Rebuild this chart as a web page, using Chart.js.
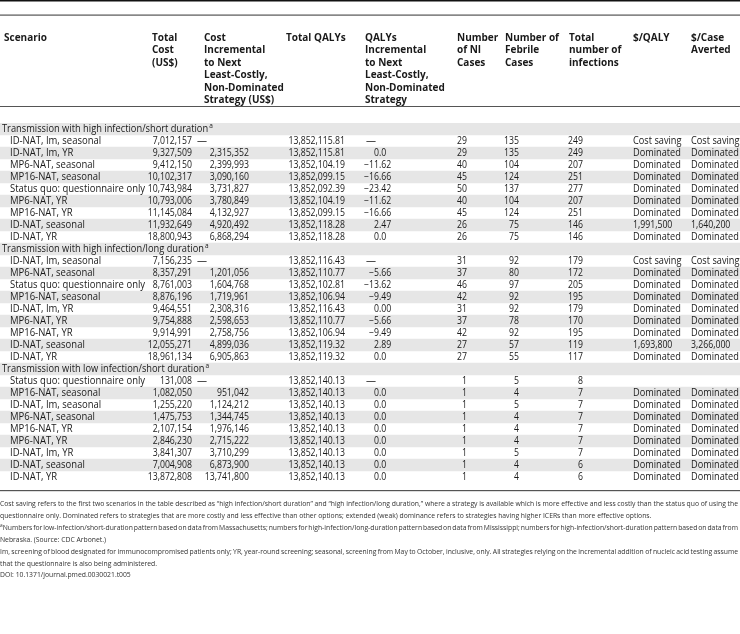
<!DOCTYPE html>
<html>
<head>
<meta charset="utf-8">
<script src="https://cdn.jsdelivr.net/npm/chart.js@4.4.1/dist/chart.umd.min.js"></script>
<style>
  body { margin: 0; background: #fff; }
  #wrap { position: relative; width: 740px; height: 634px; overflow: hidden; }
  #wrap canvas { position: absolute; left: 0; top: 0; }
  .hd { position: absolute; top: 30.5px; font: bold 10px "Open Sans", sans-serif; line-height: 12.6px; color: #1a1a1a; white-space: nowrap; }
  #notes { position: absolute; left: 0; top: 498px; width: 738px; font: 6.8px "Open Sans", sans-serif; line-height: 11.9px; color: #333; }
  #notes div { white-space: nowrap; }
  sup { font-size: 70%; line-height: 0; }
</style>
</head>
<body>
<div id="wrap">
  <canvas id="table"></canvas>
  <div id="notes"></div>
</div>
<script>
// section titles
const sections = [
    'Transmission with high infection/short duration',
    'Transmission with high infection/long duration',
    'Transmission with low infection/short duration'
]

// high infection / short duration
const s1_names = ['ID-NAT, Im, seasonal', 'ID-NAT, Im, YR', 'MP6-NAT, seasonal', 'MP16-NAT, seasonal', 'Status quo: questionnaire only', 'MP6-NAT, YR', 'MP16-NAT, YR', 'ID-NAT, seasonal', 'ID-NAT, YR']
const s1_cost = [7012157, 9327509, 9412150, 10102317, 10743984, 10793006, 11145084, 11932649, 18800943]
const s1_cost_incr = [null, 2315352, 2399993, 3090160, 3731827, 3780849, 4132927, 4920492, 6868294]
const s1_qalys = [13852115.81, 13852115.81, 13852104.19, 13852099.15, 13852092.39, 13852104.19, 13852099.15, 13852118.28, 13852118.28]
const s1_qaly_incr = [null, '0.0', '\u221211.62', '\u221216.66', '\u221223.42', '\u221211.62', '\u221216.66', '2.47', '0.0']
const s1_ni = [29, 29, 40, 45, 50, 40, 45, 26, 26]
const s1_febrile = [135, 135, 104, 124, 137, 104, 124, 75, 75]
const s1_infections = [249, 249, 207, 251, 277, 207, 251, 146, 146]
const s1_per_qaly = ['Cost saving', 'Dominated', 'Dominated', 'Dominated', 'Dominated', 'Dominated', 'Dominated', '1,991,500', 'Dominated']
const s1_per_case = ['Cost saving', 'Dominated', 'Dominated', 'Dominated', 'Dominated', 'Dominated', 'Dominated', '1,640,200', 'Dominated']

// high infection / long duration
const s2_names = ['ID-NAT, Im, seasonal', 'MP6-NAT, seasonal', 'Status quo: questionnaire only', 'MP16-NAT, seasonal', 'ID-NAT, Im, YR', 'MP6-NAT, YR', 'MP16-NAT, YR', 'ID-NAT, seasonal', 'ID-NAT, YR']
const s2_cost = [7156235, 8357291, 8761003, 8876196, 9464551, 9754888, 9914991, 12055271, 18961134]
const s2_cost_incr = [null, 1201056, 1604768, 1719961, 2308316, 2598653, 2758756, 4899036, 6905863]
const s2_qalys = [13852116.43, 13852110.77, 13852102.81, 13852106.94, 13852116.43, 13852110.77, 13852106.94, 13852119.32, 13852119.32]
const s2_qaly_incr = [null, '\u22125.66', '\u221213.62', '\u22129.49', '0.00', '\u22125.66', '\u22129.49', '2.89', '0.0']
const s2_ni = [31, 37, 46, 42, 31, 37, 42, 27, 27]
const s2_febrile = [92, 80, 97, 92, 92, 78, 92, 57, 55]
const s2_infections = [179, 172, 205, 195, 179, 170, 195, 119, 117]
const s2_per_qaly = ['Cost saving', 'Dominated', 'Dominated', 'Dominated', 'Dominated', 'Dominated', 'Dominated', '1,693,800', 'Dominated']
const s2_per_case = ['Cost saving', 'Dominated', 'Dominated', 'Dominated', 'Dominated', 'Dominated', 'Dominated', '3,266,000', 'Dominated']

// low infection / short duration
const s3_names = ['Status quo: questionnaire only', 'MP16-NAT, seasonal', 'ID-NAT, Im, seasonal', 'MP6-NAT, seasonal', 'MP16-NAT, YR', 'MP6-NAT, YR', 'ID-NAT, Im, YR', 'ID-NAT, seasonal', 'ID-NAT, YR']
const s3_cost = [131008, 1082050, 1255220, 1475753, 2107154, 2846230, 3841307, 7004908, 13872808]
const s3_cost_incr = [null, 951042, 1124212, 1344745, 1976146, 2715222, 3710299, 6873900, 13741800]
const s3_qalys = [13852140.13, 13852140.13, 13852140.13, 13852140.13, 13852140.13, 13852140.13, 13852140.13, 13852140.13, 13852140.13]
const s3_qaly_incr = [null, '0.0', '0.0', '0.0', '0.0', '0.0', '0.0', '0.0', '0.0']
const s3_ni = [1, 1, 1, 1, 1, 1, 1, 1, 1]
const s3_febrile = [5, 4, 5, 4, 4, 4, 5, 4, 4]
const s3_infections = [8, 7, 7, 7, 7, 7, 7, 6, 6]
const s3_per_qaly = ['', 'Dominated', 'Dominated', 'Dominated', 'Dominated', 'Dominated', 'Dominated', 'Dominated', 'Dominated']
const s3_per_case = ['', 'Dominated', 'Dominated', 'Dominated', 'Dominated', 'Dominated', 'Dominated', 'Dominated', 'Dominated']

// column headings
const headings = [
    ['Scenario'],
    ['Total', 'Cost', '(US$)'],
    ['Cost', 'Incremental', 'to Next', 'Least-Costly,', 'Non-Dominated', 'Strategy (US$)'],
    ['Total QALYs'],
    ['QALYs', 'Incremental', 'to Next', 'Least-Costly,', 'Non-Dominated', 'Strategy'],
    ['Number', 'of NI', 'Cases'],
    ['Number of', 'Febrile', 'Cases'],
    ['Total', 'number of', 'infections'],
    ['$/QALY'],
    ['$/Case', 'Averted']
]

const footnotes = [
    'Cost saving refers to the first two scenarios in the table described as \u201chigh infection/short duration\u201d and \u201chigh infection/long duration,\u201d where a strategy is available which is more effective and less costly than the status quo of using the',
    'questionnaire only. Dominated refers to strategies that are more costly and less effective than other options; extended (weak) dominance refers to strategies having higher ICERs than more effective options.',
    '<sup>a</sup>Numbers for low-infection/short-duration pattern based on data from Massachusetts; numbers for high-infection/long-duration pattern based on data from Mississippi; numbers for high-infection/short-duration pattern based on data from',
    'Nebraska. (Source: CDC Arbonet.)',
    'Im, screening of blood designated for immunocompromised patients only; YR, year-round screening; seasonal, screening from May to October, inclusive, only. All strategies relying on the incremental addition of nucleic acid testing assume',
    'that the questionnaire is also being administered.',
    'DOI: 10.1371/journal.pmed.0030021.t005'
]
const justified = [true, false, true, false, true, false, false]

// layout (pixels on a 0..740 x-scale)
const heading_x = [4, 152, 204, 286, 365, 457, 505, 569, 633, 691]
const body_font = '10px "Open Sans", sans-serif'
const ink = '#1a1a1a'
const band = '#e6e6e6'
const squeeze_num = 0.87   // digits in the original are narrower
const squeeze_txt = 0.95
const squeeze_end = 0.92   // last two columns, so "Cost saving" fits

// build the rows
const all_sections = [
    [s1_names, s1_cost, s1_cost_incr, s1_qalys, s1_qaly_incr, s1_ni, s1_febrile, s1_infections, s1_per_qaly, s1_per_case],
    [s2_names, s2_cost, s2_cost_incr, s2_qalys, s2_qaly_incr, s2_ni, s2_febrile, s2_infections, s2_per_qaly, s2_per_case],
    [s3_names, s3_cost, s3_cost_incr, s3_qalys, s3_qaly_incr, s3_ni, s3_febrile, s3_infections, s3_per_qaly, s3_per_case]
]

let rows = []
all_sections.forEach((sec, s) => {
    rows.push({ section: sections[s], shade: true })
    sec[0].forEach((name, i) => {
        rows.push({
            name: name,
            cost: sec[1][i], cost_incr: sec[2][i], qalys: sec[3][i], qaly_incr: sec[4][i],
            ni: sec[5][i], febrile: sec[6][i], infections: sec[7][i],
            per_qaly: sec[8][i], per_case: sec[9][i],
            shade: i % 2 === 1
        })
    })
})

const fmt = (v, d) => v.toLocaleString('en-US', { minimumFractionDigits: d, maximumFractionDigits: d })

// headings
const wrap = document.getElementById('wrap')
headings.forEach((lines, i) => {
    const div = document.createElement('div')
    div.className = 'hd'
    div.style.left = heading_x[i] + 'px'
    div.innerHTML = lines.join('<br>')
    wrap.appendChild(div)
})

// notes, justified lines get their word spacing stretched to the full width
const notes = document.getElementById('notes')
footnotes.forEach((t, i) => {
    const div = document.createElement('div')
    const span = document.createElement('span')
    span.innerHTML = t
    div.appendChild(span)
    notes.appendChild(div)
    if (justified[i]) {
        const gaps = t.split(' ').length - 1
        const extra = (738 - span.getBoundingClientRect().width) / gaps
        span.style.wordSpacing = extra + 'px'
    }
})

function text(ctx, s, x, y, align, k) {
    ctx.textAlign = align
    const w = ctx.measureText(s).width
    if (w > 0) ctx.fillText(s, x, y, w * (k || 1))
}

const cells = {
    id: 'cells',
    beforeDatasetsDraw(chart) {
        const ctx = chart.ctx
        const area = chart.chartArea
        ctx.save()
        ctx.fillStyle = '#111'
        ctx.fillRect(0, 0, 740, 1.5)
        ctx.fillStyle = '#555'
        ctx.fillRect(0, 14.5, 740, 1.2)
        ctx.fillRect(0, area.top - 17, 740, 1)
        ctx.fillRect(0, area.bottom + 7, 740, 1.2)
        ctx.restore()
    },
    afterDatasetsDraw(chart) {
        const ctx = chart.ctx
        const x = chart.scales.x
        const y = chart.scales.y
        const px = v => x.getPixelForValue(v)
        ctx.save()
        ctx.fillStyle = ink
        ctx.font = body_font
        ctx.textBaseline = 'middle'
        rows.forEach((r, i) => {
            const py = y.getPixelForValue(i) + 0.5
            if (r.section) {
                text(ctx, r.section, px(2), py, 'left', 0.93)
                const w = ctx.measureText(r.section).width * 0.93
                ctx.font = '6.5px "Open Sans", sans-serif'
                text(ctx, 'a', px(3) + w, py - 3, 'left')
                ctx.font = body_font
                return
            }
            text(ctx, r.name, px(10), py, 'left', squeeze_txt)
            text(ctx, fmt(r.cost, 0), px(192), py, 'right', squeeze_num)
            if (r.cost_incr === null) text(ctx, '\u2014', px(197), py, 'left')
            else text(ctx, fmt(r.cost_incr, 0), px(249), py, 'right', squeeze_num)
            text(ctx, fmt(r.qalys, 2), px(345), py, 'right', squeeze_num)
            if (r.qaly_incr === null) text(ctx, '\u2014', px(366), py, 'left')
            else {
                const whole = r.qaly_incr.split('.')[0]
                const shift = ctx.measureText(whole).width * squeeze_num
                text(ctx, r.qaly_incr, px(379) - shift, py, 'left', squeeze_num)
            }
            text(ctx, String(r.ni), px(467), py, 'right', squeeze_num)
            text(ctx, String(r.febrile), px(519), py, 'right', squeeze_num)
            text(ctx, String(r.infections), px(583), py, 'right', squeeze_num)
            text(ctx, r.per_qaly, px(633), py, 'left', /\d/.test(r.per_qaly) ? squeeze_num : squeeze_end)
            text(ctx, r.per_case, px(691), py, 'left', /\d/.test(r.per_case) ? squeeze_num : squeeze_end)
        })
        ctx.restore()
    }
}

const table_chart = new Chart(document.getElementById('table'), {
    type: 'bar',
    data: {
        labels: rows.map(r => r.section || r.name),
        datasets: [{
            label: 'bands',
            data: rows.map(r => r.shade ? [0, 740] : null),
            backgroundColor: band,
            borderWidth: 0,
            barPercentage: 1,
            categoryPercentage: 1
        }]
    },
    options: {
        indexAxis: 'y',
        responsive: true,
        maintainAspectRatio: false,
        animation: false,
        events: [],
        layout: { padding: { top: 123, bottom: 151, left: 0, right: 0 } },
        scales: {
            x: { type: 'linear', min: 0, max: 740, display: false },
            y: { type: 'category', display: false, offset: true }
        },
        plugins: {
            legend: { display: false },
            tooltip: { enabled: false }
        }
    },
    plugins: [cells]
})
</script>
</body>
</html>
